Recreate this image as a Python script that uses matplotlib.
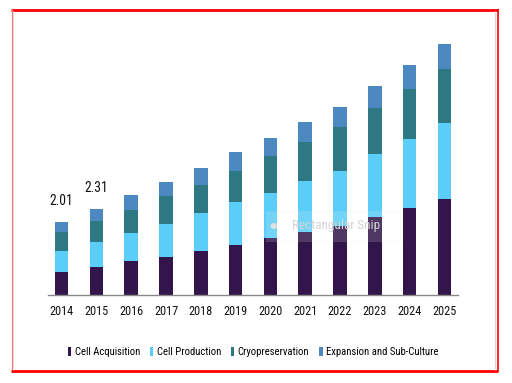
import matplotlib
matplotlib.use("Agg")
import matplotlib.pyplot as plt
from matplotlib.patches import Patch, Rectangle
from matplotlib.lines import Line2D
from matplotlib import font_manager
from matplotlib.font_manager import FontProperties

years = ["2014", "2015", "2016", "2017", "2018", "2019", "2020", "2021", "2022", "2023", "2024", "2025"]
cell_acquisition = [0.64, 0.76, 0.93, 1.05, 1.21, 1.37, 1.55, 1.73, 1.89, 2.14, 2.39, 2.62]
cell_production = [0.57, 0.70, 0.77, 0.89, 1.02, 1.16, 1.25, 1.39, 1.51, 1.70, 1.87, 2.07]
cryopreservation = [0.52, 0.57, 0.62, 0.77, 0.77, 0.87, 1.01, 1.07, 1.19, 1.26, 1.37, 1.48]
expansion = [0.26, 0.32, 0.41, 0.37, 0.46, 0.50, 0.49, 0.55, 0.56, 0.61, 0.66, 0.68]
series_names = ["Cell Acquisition", "Cell Production", "Cryopreservation", "Expansion and Sub-Culture"]
value_labels = {0: "2.01", 1: "2.31"}

colors = ["#32164B", "#5ACDF8", "#2D7883", "#4D89C1"]

# look for a condensed / narrow sans font
cands = []
for f in font_manager.fontManager.ttflist:
    nm = f.name
    narrow = ("Narrow" in nm or "Condensed" in nm or
              str(f.stretch) in ("condensed", "semi-condensed", "extra-condensed", "ultra-condensed")
              or (isinstance(f.stretch, int) and f.stretch < 500))
    if narrow and f.style == "normal" and str(f.weight) in ("400", "normal", "regular", "book") and "Mono" not in nm and "Serif" not in nm:
        cands.append(f)
pref = ["Liberation Sans Narrow", "Roboto Condensed", "Open Sans Condensed", "DejaVu Sans"]
chosen = None
for p in pref:
    for f in cands:
        if f.name == p:
            chosen = f
            break
    if chosen:
        break
if chosen is None and cands:
    chosen = cands[0]

if chosen is not None:
    FP = lambda size: FontProperties(fname=chosen.fname, size=size)
    k = 1.0 if chosen.name != "DejaVu Sans" else 0.95
else:
    FP = lambda size: FontProperties(family="Liberation Sans", size=size)
    k = 0.8

W, H = 512, 383
fig = plt.figure(figsize=(W / 100, H / 100), dpi=100)
fig.patch.set_facecolor("white")

ax_left, ax_width = 48, 410
ax_bottom = H - 295
ax_height = 256.2
ax = fig.add_axes([ax_left / W, ax_bottom / H, ax_width / W, ax_height / H])

x = list(range(len(years)))
bottom = [0.0] * len(years)
for vals, c in zip([cell_acquisition, cell_production, cryopreservation, expansion], colors):
    ax.bar(x, vals, width=0.39, bottom=bottom, color=c, edgecolor="none", zorder=2)
    bottom = [b + v for b, v in zip(bottom, vals)]

for i, lab in value_labels.items():
    ax.text(i, bottom[i] + 0.57, lab, ha="center", va="center", fontproperties=FP(9.8 * k), color="#111111")

ax.set_xlim(-0.39, 11.39)
ax.set_ylim(0, 7.0)
ax.set_xticks(x)
ax.set_xticklabels(years, color="#111111")
for t in ax.get_xticklabels():
    t.set_fontproperties(FP(8.8 * k))
ax.set_yticks([])
ax.tick_params(axis="x", length=0, pad=7)
for s in ["top", "right", "left"]:
    ax.spines[s].set_visible(False)
ax.spines["bottom"].set_color("#888888")
ax.spines["bottom"].set_linewidth(1.0)
ax.set_facecolor("none")

handles = [Patch(facecolor=c, edgecolor="none") for c in colors]
fig.legend(handles, series_names, loc="center", bbox_to_anchor=(253 / W, 1 - 352 / H),
           ncol=4, frameon=False, prop=FP(7.7 * k), handlelength=0.35, handleheight=1.0,
           handletextpad=0.3, columnspacing=0.9, borderaxespad=0)

# watermark overlay from snipping tool
fig.add_artist(Rectangle((266 / W, 1 - 241 / H), 134 / W, 30 / H, transform=fig.transFigure,
                         facecolor="white", alpha=0.15, edgecolor="#dddddd", linewidth=0.6, zorder=5))
fig.text(292 / W, 1 - 226 / H, "Rectangular Snip", ha="left", va="center", fontproperties=FP(9.5 * k),
         color="#d4d4d4", zorder=6)
fig.text(273 / W, 1 - 226 / H, "\u25cf", ha="center", va="center", fontsize=6, color="#e0e0e0", zorder=6)

# frame lines
def fline(x0, y0, x1, y1, color, lw):
    fig.add_artist(Line2D([x0 / W, x1 / W], [1 - y0 / H, 1 - y1 / H], transform=fig.transFigure,
                          color=color, linewidth=lw, solid_capstyle="butt"))

fline(11, 10, 498, 10, "#ff0000", 2.0)
fline(11.5, 9, 11.5, 372, "#ff7070", 0.8)
fline(497.5, 9, 497.5, 372, "#ff0000", 1.2)
fline(11, 371, 498, 371, "#ff0000", 2.0)
fline(13, 11, 13, 370, "#d8d8d8", 0.6)
fline(494.5, 11, 494.5, 370, "#d8d8d8", 0.8)

fig.savefig("out.png", dpi=100)
